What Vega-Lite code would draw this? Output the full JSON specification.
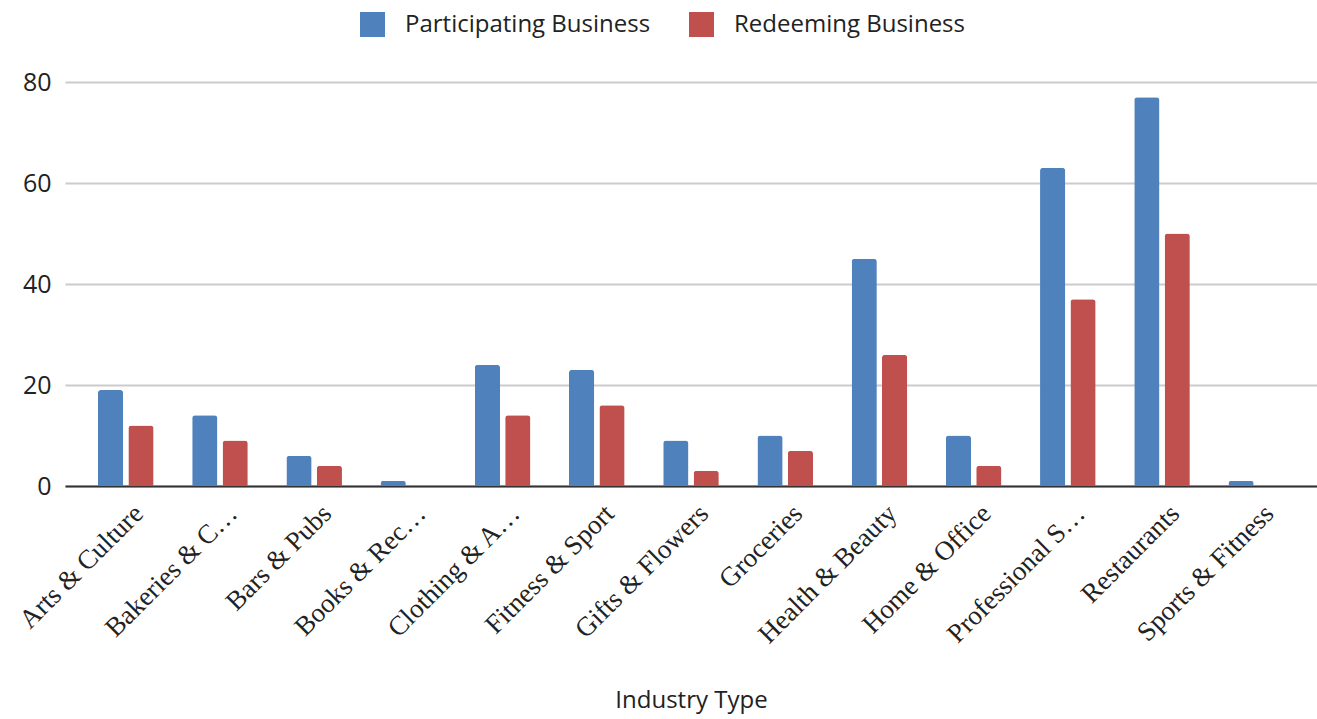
{
  "$schema": "https://vega.github.io/schema/vega-lite/v6.json",
  "width": 1252,
  "height": 404,
  "autosize": {"type": "none"},
  "padding": {"left": 65, "top": 82, "right": 0, "bottom": 233},
  "background": "white",
  "data": {
    "values": [
      {"industry": "Arts & Culture", "series": "Participating Business", "value": 19},
      {"industry": "Arts & Culture", "series": "Redeeming Business", "value": 12},
      {"industry": "Bakeries & C…", "series": "Participating Business", "value": 14},
      {"industry": "Bakeries & C…", "series": "Redeeming Business", "value": 9},
      {"industry": "Bars & Pubs", "series": "Participating Business", "value": 6},
      {"industry": "Bars & Pubs", "series": "Redeeming Business", "value": 4},
      {"industry": "Books & Rec…", "series": "Participating Business", "value": 1},
      {"industry": "Books & Rec…", "series": "Redeeming Business", "value": 0},
      {"industry": "Clothing & A…", "series": "Participating Business", "value": 24},
      {"industry": "Clothing & A…", "series": "Redeeming Business", "value": 14},
      {"industry": "Fitness & Sport", "series": "Participating Business", "value": 23},
      {"industry": "Fitness & Sport", "series": "Redeeming Business", "value": 16},
      {"industry": "Gifts & Flowers", "series": "Participating Business", "value": 9},
      {"industry": "Gifts & Flowers", "series": "Redeeming Business", "value": 3},
      {"industry": "Groceries", "series": "Participating Business", "value": 10},
      {"industry": "Groceries", "series": "Redeeming Business", "value": 7},
      {"industry": "Health & Beauty", "series": "Participating Business", "value": 45},
      {"industry": "Health & Beauty", "series": "Redeeming Business", "value": 26},
      {"industry": "Home & Office", "series": "Participating Business", "value": 10},
      {"industry": "Home & Office", "series": "Redeeming Business", "value": 4},
      {"industry": "Professional S…", "series": "Participating Business", "value": 63},
      {"industry": "Professional S…", "series": "Redeeming Business", "value": 37},
      {"industry": "Restaurants", "series": "Participating Business", "value": 77},
      {"industry": "Restaurants", "series": "Redeeming Business", "value": 50},
      {"industry": "Sports & Fitness", "series": "Participating Business", "value": 1},
      {"industry": "Sports & Fitness", "series": "Redeeming Business", "value": 0}
    ]
  },
  "mark": {"type": "bar", "cornerRadiusTopLeft": 3, "cornerRadiusTopRight": 3},
  "encoding": {
    "x": {
      "field": "industry",
      "type": "nominal",
      "sort": null,
      "title": "Industry Type",
      "scale": {"paddingInner": 0.41, "paddingOuter": 0.35},
      "axis": {
        "labelAngle": -45,
        "labelFont": "Liberation Serif",
        "labelFontSize": 27,
        "labelColor": "#222222",
        "labelLimit": 400,
        "labelPadding": 14,
        "labelOffset": 4,
        "ticks": false,
        "domainColor": "#333333",
        "domainWidth": 2,
        "titleFont": "Open Sans",
        "titleFontSize": 24,
        "titleFontWeight": "normal",
        "titleColor": "#222222",
        "titleY": 214,
        "titleBaseline": "middle"
      }
    },
    "xOffset": {
      "field": "series",
      "type": "nominal",
      "scale": {"paddingInner": 0.17, "paddingOuter": 0}
    },
    "y": {
      "field": "value",
      "type": "quantitative",
      "title": null,
      "scale": {"domain": [0, 80]},
      "axis": {
        "values": [0, 20, 40, 60, 80],
        "labelFont": "Open Sans",
        "labelFontSize": 25,
        "labelColor": "#222222",
        "labelPadding": 14,
        "ticks": false,
        "domain": false,
        "gridColor": "#cccccc",
        "gridWidth": 2
      }
    },
    "color": {
      "field": "series",
      "type": "nominal",
      "title": null,
      "scale": {
        "domain": ["Participating Business", "Redeeming Business"],
        "range": ["#4f81bd", "#c0504d"]
      },
      "legend": {
        "orient": "none",
        "direction": "horizontal",
        "legendX": 295,
        "legendY": -70,
        "symbolType": "square",
        "symbolSize": 625,
        "symbolStrokeWidth": 0,
        "labelFont": "Open Sans",
        "labelFontSize": 24,
        "labelColor": "#222222",
        "labelOffset": 20,
        "labelLimit": 400,
        "columnPadding": 38,
        "padding": 0
      }
    }
  },
  "config": {"view": {"stroke": null}}
}
